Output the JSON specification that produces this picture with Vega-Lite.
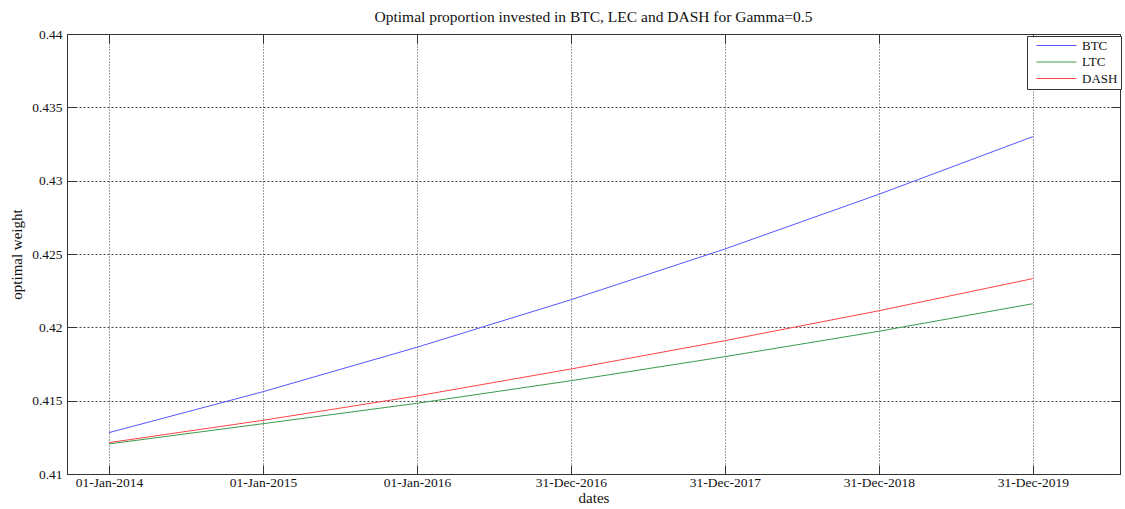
{
  "$schema": "https://vega.github.io/schema/vega-lite/v6.json",
  "width": 1053,
  "height": 440,
  "autosize": {"type": "none"},
  "padding": {"left": 67, "top": 34, "right": 5, "bottom": 35},
  "background": "white",
  "title": {
    "text": "Optimal proportion invested in BTC, LEC and DASH for Gamma=0.5",
    "font": "Liberation Serif",
    "fontSize": 15.5,
    "fontWeight": "normal",
    "color": "#111",
    "anchor": "middle",
    "baseline": "alphabetic",
    "offset": 11,
    "dy": 21
  },
  "config": {
    "view": {"stroke": "#333", "strokeWidth": 1},
    "axis": {
      "labelFont": "Liberation Serif",
      "labelFontSize": 13.5,
      "labelColor": "#111",
      "titleFont": "Liberation Serif",
      "titleFontSize": 15,
      "titleFontWeight": "normal",
      "titleColor": "#111",
      "domainColor": "#333",
      "tickColor": "#333",
      "tickSize": -9,
      "labelPadding": 14,
      "labelFlush": false,
      "labelOverlap": false,
      "gridColor": "#333",
      "gridOpacity": 0.9,
      "gridWidth": 1
    }
  },
  "data": {
    "values": [
      {"date": "2014-01-01", "asset": "BTC", "w": 0.41282},
      {"date": "2015-01-01", "asset": "BTC", "w": 0.41561},
      {"date": "2016-01-01", "asset": "BTC", "w": 0.41864},
      {"date": "2016-12-31", "asset": "BTC", "w": 0.42188},
      {"date": "2017-12-31", "asset": "BTC", "w": 0.42534},
      {"date": "2018-12-31", "asset": "BTC", "w": 0.42907},
      {"date": "2019-12-31", "asset": "BTC", "w": 0.43300},
      {"date": "2014-01-01", "asset": "LTC", "w": 0.41205},
      {"date": "2015-01-01", "asset": "LTC", "w": 0.41343},
      {"date": "2016-01-01", "asset": "LTC", "w": 0.41482},
      {"date": "2016-12-31", "asset": "LTC", "w": 0.41636},
      {"date": "2017-12-31", "asset": "LTC", "w": 0.41800},
      {"date": "2018-12-31", "asset": "LTC", "w": 0.41973},
      {"date": "2019-12-31", "asset": "LTC", "w": 0.42161},
      {"date": "2014-01-01", "asset": "DASH", "w": 0.41214},
      {"date": "2015-01-01", "asset": "DASH", "w": 0.41366},
      {"date": "2016-01-01", "asset": "DASH", "w": 0.41532},
      {"date": "2016-12-31", "asset": "DASH", "w": 0.41716},
      {"date": "2017-12-31", "asset": "DASH", "w": 0.41909},
      {"date": "2018-12-31", "asset": "DASH", "w": 0.42113},
      {"date": "2019-12-31", "asset": "DASH", "w": 0.42332}
    ]
  },
  "layer": [
    {
      "mark": {"type": "line", "strokeWidth": 1, "clip": true},
      "encoding": {
        "x": {
          "field": "date",
          "type": "temporal",
          "scale": {"type": "utc", "domain": [1379937600000, 1595617920000], "nice": false},
          "axis": {
            "title": "dates",
            "titlePadding": 2,
            "labelPadding": 10,
            "values": [1388534400000, 1420070400000, 1451606400000, 1483142400000, 1514678400000, 1546214400000, 1577750400000],
            "labelExpr": "utcFormat(datum.value, '%d-%b-%Y')",
            "grid": true,
            "gridDash": [1, 2]
          }
        },
        "y": {
          "field": "w",
          "type": "quantitative",
          "scale": {"domain": [0.41, 0.44], "nice": false, "zero": false},
          "axis": {
            "title": "optimal weight",
            "titlePadding": 7,
            "values": [0.41, 0.415, 0.42, 0.425, 0.43, 0.435, 0.44],
            "format": ".6~g",
            "grid": true,
            "gridDash": [2, 2]
          }
        },
        "color": {
          "field": "asset",
          "type": "nominal",
          "sort": ["BTC", "LTC", "DASH"],
          "scale": {"domain": ["BTC", "LTC", "DASH"], "range": ["#5555ff", "#3c9a4c", "#ff4444"]},
          "legend": {
            "title": null,
            "orient": "none",
            "legendX": 960,
            "legendY": 2,
            "direction": "vertical",
            "symbolType": "M0,0H8",
            "symbolSize": 100,
            "symbolStrokeWidth": 1,
            "symbolFillColor": "transparent",
            "labelOffset": 39,
            "labelFont": "Liberation Serif",
            "labelFontSize": 13,
            "labelColor": "#111",
            "rowPadding": 2.5,
            "padding": 3,
            "strokeColor": "#333",
            "fillColor": "white"
          }
        }
      }
    },
    {
      "mark": {"type": "line", "opacity": 0},
      "encoding": {
        "x": {
          "field": "date",
          "type": "temporal",
          "axis": {
            "orient": "top",
            "title": null,
            "labels": false,
            "grid": false,
            "domain": false,
            "values": [1388534400000, 1420070400000, 1451606400000, 1483142400000, 1514678400000, 1546214400000, 1577750400000]
          }
        },
        "y": {
          "field": "w",
          "type": "quantitative",
          "axis": {
            "orient": "right",
            "title": null,
            "labels": false,
            "grid": false,
            "domain": false,
            "values": [0.41, 0.415, 0.42, 0.425, 0.43, 0.435, 0.44]
          }
        },
        "detail": {"field": "asset", "type": "nominal"}
      }
    }
  ],
  "resolve": {"axis": {"x": "independent", "y": "independent"}}
}
